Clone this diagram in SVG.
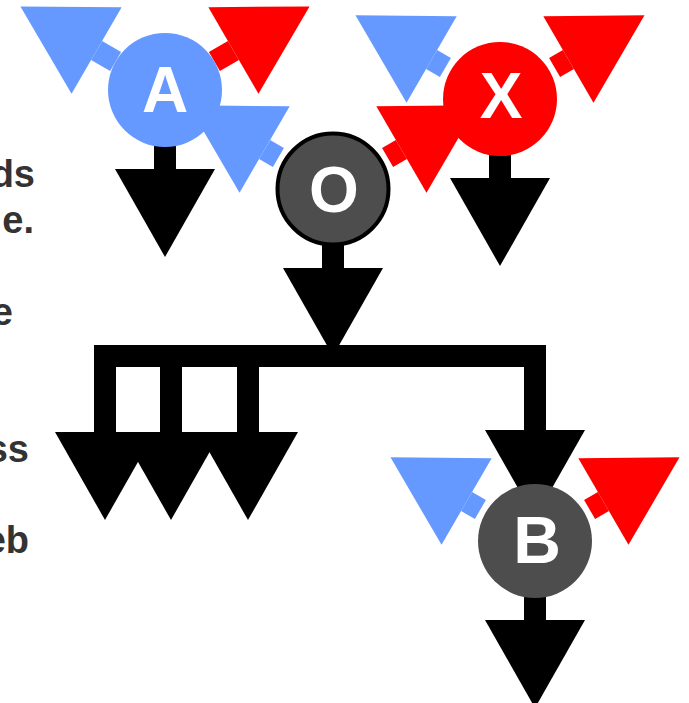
<svg xmlns="http://www.w3.org/2000/svg" width="689" height="703" viewBox="0 0 689 703">
  <style>
    .side { font-family: "Liberation Sans", Arial, sans-serif; font-weight: bold; font-size: 38px; fill: #333333; text-anchor: end; }
    .label { font-family: "Liberation Sans", Arial, sans-serif; font-weight: bold; fill: #ffffff; text-anchor: middle; }
    .shaft { fill: none; stroke-width: 22; stroke-linecap: butt; }
    .blue { stroke: #6699ff; marker-end: url(#head-blue); }
    .red { stroke: #ff0000; marker-end: url(#head-red); }
    .black { stroke: #000000; marker-end: url(#head-black); }
    .bus { fill: none; stroke: #000000; stroke-width: 22; stroke-linecap: square; }
  </style>
  <defs>
    <!-- equilateral-style arrowheads, base at the path end, 88 long, 100 wide -->
    <marker id="head-blue" markerUnits="userSpaceOnUse" viewBox="0 0 88 100" markerWidth="88" markerHeight="100" refX="0" refY="50" orient="auto" overflow="visible">
      <path d="M0,0 L88,50 L0,100 Z" fill="#6699ff"/>
    </marker>
    <marker id="head-red" markerUnits="userSpaceOnUse" viewBox="0 0 88 100" markerWidth="88" markerHeight="100" refX="0" refY="50" orient="auto" overflow="visible">
      <path d="M0,0 L88,50 L0,100 Z" fill="#ff0000"/>
    </marker>
    <marker id="head-black" markerUnits="userSpaceOnUse" viewBox="0 0 88 100" markerWidth="88" markerHeight="100" refX="0" refY="50" orient="auto" overflow="visible">
      <path d="M0,0 L88,50 L0,100 Z" fill="#000000"/>
    </marker>
  </defs>

  <rect width="689" height="703" fill="#ffffff"/>

  <!-- text column running off the left edge -->
  <g id="side-text">
    <text class="side" x="35" y="187">ds</text>
    <text class="side" x="34" y="233">e.</text>
    <text class="side" x="13" y="325">e</text>
    <text class="side" x="29" y="462">ss</text>
    <text class="side" x="29" y="553">eb</text>
  </g>

  <g id="connectors">
    <!-- A -->
    <path class="shaft blue" d="M115.6,61.5 L96.6,50.5"/>
    <path class="shaft red" d="M214.4,61.5 L233.4,50.5"/>
    <path class="shaft black" d="M165,90 L165,169"/>
    <!-- X -->
    <path class="shaft blue" d="M445.4,67.5 L431.6,59.5"/>
    <path class="shaft red" d="M554.6,67.5 L568.4,59.5"/>
    <path class="shaft black" d="M500,99 L500,178"/>
    <!-- O -->
    <path class="shaft blue" d="M278.4,157.5 L264.6,149.5"/>
    <path class="shaft red" d="M387.6,157.5 L401.4,149.5"/>
    <path class="shaft black" d="M333,189 L333,268"/>
    <!-- bus from O -->
    <path class="bus" d="M105,356 H535"/>
    <path class="shaft black" d="M105,356 V432"/>
    <path class="shaft black" d="M171,356 V432"/>
    <path class="shaft black" d="M248,356 V432"/>
    <path class="shaft black" d="M535,356 V430"/>
    <!-- B -->
    <path class="shaft blue" d="M480.4,509.5 L466.6,501.5"/>
    <path class="shaft red" d="M589.6,509.5 L603.4,501.5"/>
    <path class="shaft black" d="M535,541 L535,620"/>
  </g>

  <g id="node-A">
    <circle cx="165" cy="90" r="57" fill="#6699ff"/>
    <text class="label" x="165" y="112" font-size="64">A</text>
  </g>
  <g id="node-X">
    <circle cx="500" cy="99" r="57" fill="#ff0000"/>
    <text class="label" x="501" y="118" font-size="64">X</text>
  </g>
  <g id="node-O">
    <circle cx="333" cy="189" r="55.5" fill="#4d4d4d" stroke="#000000" stroke-width="4"/>
    <text class="label" x="334" y="212" font-size="64">O</text>
  </g>
  <g id="node-B">
    <circle cx="535" cy="541" r="57" fill="#4d4d4d"/>
    <text class="label" x="537" y="563" font-size="66">B</text>
  </g>
</svg>
